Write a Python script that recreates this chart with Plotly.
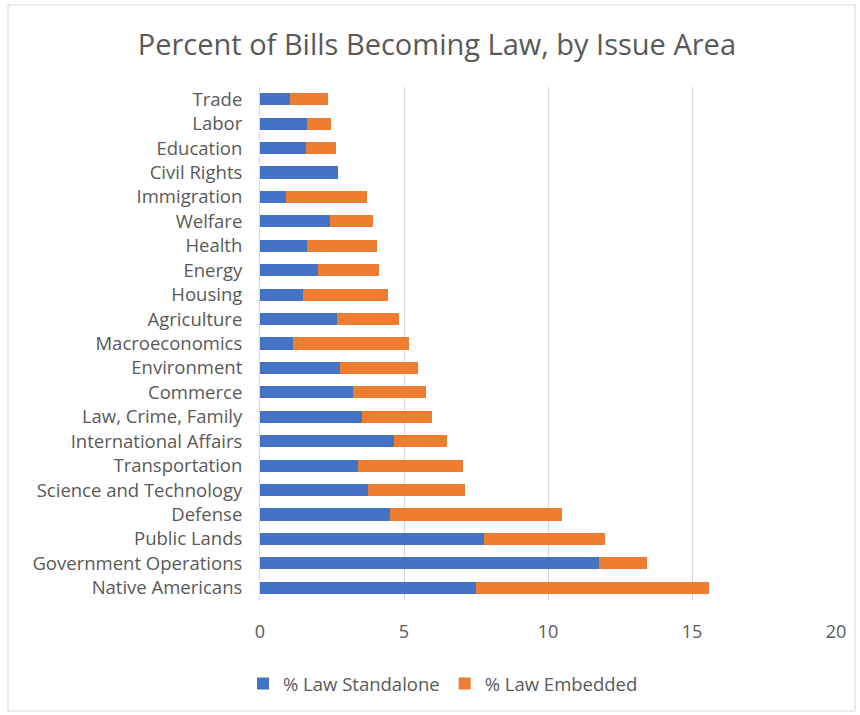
import plotly.graph_objects as go

categories = ["Trade", "Labor", "Education", "Civil Rights", "Immigration", "Welfare",
              "Health", "Energy", "Housing", "Agriculture", "Macroeconomics", "Environment",
              "Commerce", "Law, Crime, Family", "International Affairs", "Transportation",
              "Science and Technology", "Defense", "Public Lands", "Government Operations",
              "Native Americans"]
standalone = [1.05, 1.63, 1.60, 2.70, 0.90, 2.43, 1.64, 2.03, 1.49, 2.66, 1.16, 2.77,
              3.24, 3.53, 4.65, 3.39, 3.75, 4.51, 7.79, 11.78, 7.51]
embedded = [1.30, 0.85, 1.04, 0.0, 2.80, 1.49, 2.41, 2.09, 2.94, 2.18, 4.03, 2.73,
            2.51, 2.45, 1.83, 3.67, 3.38, 5.99, 4.18, 1.66, 8.07]
x_ticks = [0, 5, 10, 15, 20]

FONT = "Open Sans, Segoe UI, sans-serif"
GRAY = "#595959"

fig = go.Figure()
fig.add_trace(go.Bar(y=categories, x=standalone, orientation="h", name="% Law Standalone",
                     marker=dict(color="#4472C4", line=dict(width=0))))
fig.add_trace(go.Bar(y=categories, x=embedded, orientation="h", name="% Law Embedded",
                     marker=dict(color="#ED7D31", line=dict(width=0))))

L, R, T, B = 260, 24, 87, 115
W, H = 860, 715
pw, ph = W - L - R, H - T - B

fig.update_layout(
    width=W, height=H,
    barmode="stack", bargap=0.5,
    paper_bgcolor="white", plot_bgcolor="white",
    margin=dict(l=L, r=R, t=T, b=B),
    font=dict(family=FONT, color=GRAY, size=18),
    title=dict(text="Percent of Bills Becoming Law, by Issue Area", x=0.508, xanchor="center",
               y=1 - 45 / H, yanchor="middle", font=dict(size=29, color=GRAY, family=FONT)),
    xaxis=dict(range=[0, 20], tickvals=x_ticks, showgrid=True, gridcolor="#d9d9d9", gridwidth=1,
               zeroline=False, showline=False, ticks="", tickfont=dict(size=18, color=GRAY),
               ticklabelstandoff=19, fixedrange=True),
    yaxis=dict(autorange="reversed", showgrid=False, showline=True, linecolor="#d9d9d9",
               ticks="", tickfont=dict(size=18.5, color=GRAY), ticklabelstandoff=13),
    legend=dict(orientation="h", x=(443 - L) / pw, xanchor="center", y=-(684 - (H - B)) / ph,
                yanchor="middle", font=dict(size=18.5, color=GRAY), itemwidth=30,
                traceorder="normal"),
    showlegend=True,
)
# outer chart border
fig.add_shape(type="rect", xref="paper", yref="paper",
              x0=(8 - L) / pw, x1=(855 - L) / pw, y0=-(711 - (H - B)) / ph, y1=1 + (T - 5) / ph,
              line=dict(color="#d9d9d9", width=1), fillcolor="rgba(0,0,0,0)", layer="below")

fig.write_html("out.html")
